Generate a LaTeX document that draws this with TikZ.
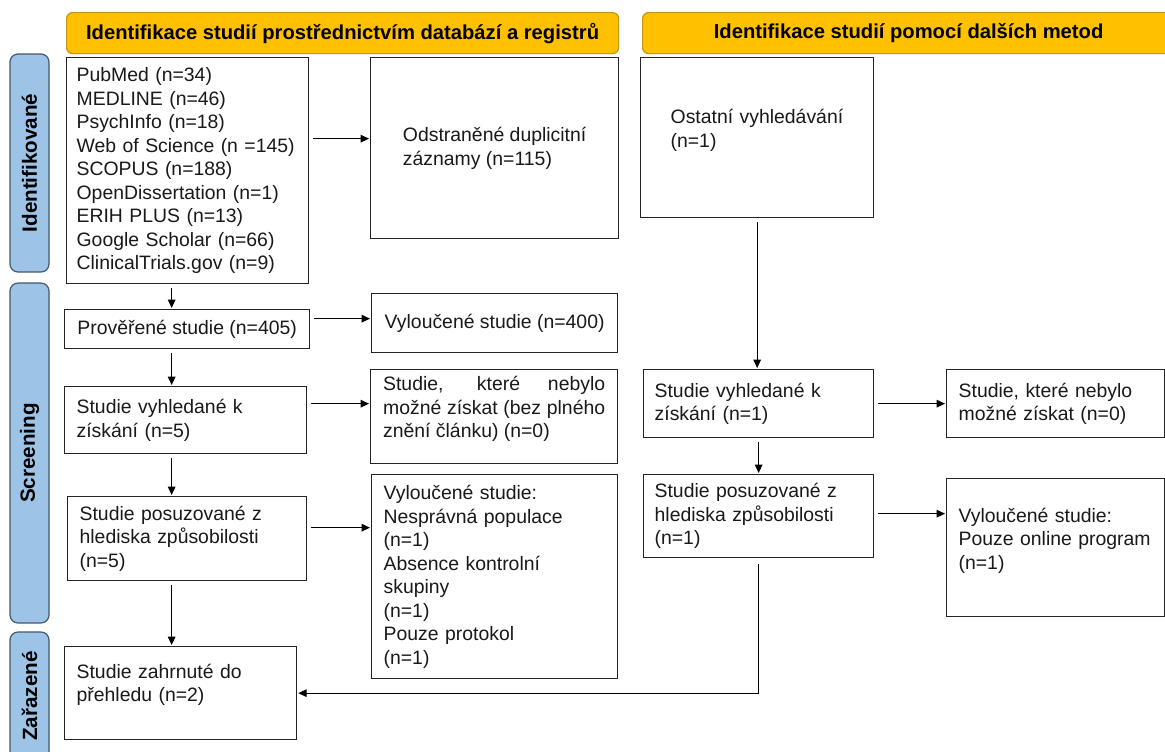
\documentclass[tikz,border=0pt]{standalone}
\usepackage{fontspec}
\setmainfont{Liberation Sans}
\usepackage{tikz}
\usetikzlibrary{positioning,arrows.meta}
\definecolor{hdryellow}{RGB}{255,192,0}
\definecolor{hdrborder}{RGB}{196,150,20}
\definecolor{sideblue}{RGB}{157,195,230}
\definecolor{sideborder}{RGB}{70,88,108}
\definecolor{boxline}{RGB}{35,35,35}

\begin{document}
\begin{tikzpicture}[
    x=0.5pt, y=-0.5pt,
    font=\fontsize{9.7}{11.75}\selectfont,
    box/.style={
      draw=boxline, line width=0.65pt, fill=white, anchor=north west,
      inner ysep=2pt, text=black!90
    },
    lbox/.style={box, align=left, inner xsep=6pt},
    hdr/.style={
      draw=hdrborder, fill=hdryellow, rounded corners=3pt, anchor=north west,
      line width=0.6pt, minimum height=20.5pt, text=black,
      font=\fontsize{10.1}{12}\selectfont\bfseries
    },
    side/.style={
      draw=sideborder, fill=sideblue, rounded corners=4pt, rotate=90,
      line width=0.6pt, minimum height=19.5pt, text=black,
      font=\fontsize{10.3}{12}\selectfont\bfseries
    },
    arr/.style={-{Triangle[length=4.2pt,width=3.8pt]}, line width=0.5pt,
      shorten <=2pt, shorten >=0.5pt},
  ]
    \path[use as bounding box] (0,0) rectangle (1165,751);

    %── Headers ─────────────────────────────────────────────────────────
    \node[hdr, minimum width=276pt] (hdb)  at (66,12)  {Identifikace studií prostřednictvím databází a registrů};
    \node[hdr, minimum width=266pt] (hoth) at (642,12) {Identifikace studií pomocí dalších metod};

    %── Phase labels on the left ────────────────────────────────────────
    \node[side, minimum width=109pt] (sid)  at (29.5,163) {Identifikované};
    \node[side, minimum width=170pt] (sscr) at (29.5,453) {Screening};
    \node[side, minimum width=64pt]  (sinc) at (29.5,696) {Zařazené};

    %── Databases and registers ─────────────────────────────────────────
    \node[lbox, inner xsep=5pt, minimum width=121pt, minimum height=113pt, text width=111pt] (db) at (66,57)
      {PubMed (n=34)\\MEDLINE (n=46)\\PsychInfo (n=18)\\Web of Science (n =145)\\SCOPUS (n=188)\\OpenDissertation (n=1)\\ERIH PLUS (n=13)\\Google Scholar (n=66)\\ClinicalTrials.gov (n=9)};
    \node[box, align=left, minimum width=124pt, minimum height=90.5pt] (dup) at (370,57)
      {Odstraněné duplicitní\\záznamy (n=115)};

    \node[box, align=left, minimum width=122.5pt, minimum height=19.5pt] (scr) at (64,309)
      {Prověřené studie (n=405)};
    \node[box, align=center, minimum width=123pt, minimum height=29.5pt] (exc) at (371,293)
      {Vyloučené studie (n=400)};

    \node[lbox, minimum width=121pt, minimum height=33.5pt, text width=109pt] (rtr) at (64,386)
      {Studie vyhledané k\\získání (n=5)};
    \node[box, align=justify, inner xsep=6.25pt, minimum width=123.5pt, minimum height=47pt, text width=111pt, text depth=33pt] (nrt) at (370,369)
      {Studie, které nebylo\linebreak možné získat (bez plného\linebreak znění článku) (n=0)};

    \node[lbox, minimum width=119.5pt, minimum height=42pt, text width=107.5pt] (elg) at (67,496)
      {Studie posuzované z\\hlediska způsobilosti\\(n=5)};
    \node[lbox, minimum width=123pt, minimum height=102pt, text width=111pt] (exe) at (371,474)
      {Vyloučené studie:\\Nesprávná populace\\(n=1)\\Absence kontrolní\\skupiny\\(n=1)\\Pouze protokol\\(n=1)};

    \node[lbox, minimum width=116pt, minimum height=46.5pt, text width=104pt, text depth=22.3pt] (inc) at (64,646)
      {Studie zahrnuté do\\přehledu (n=2)};

    %── Other methods ───────────────────────────────────────────────────
    \node[lbox, inner xsep=15pt, minimum width=116.5pt, minimum height=80pt, text width=86.5pt, text depth=21.3pt] (oth) at (640,57)
      {Ostatní vyhledávání\\(n=1)};
    \node[lbox, inner xsep=5.5pt, minimum width=115pt, minimum height=34pt, text width=104pt] (ortr) at (643,369)
      {Studie vyhledané k\\získání (n=1)};
    \node[lbox, minimum width=109pt, minimum height=34pt, text width=97pt] (onrt) at (946,369)
      {Studie, které nebylo\\možné získat (n=0)};
    \node[lbox, inner xsep=5.5pt, minimum width=115pt, minimum height=41.5pt, text width=104pt] (oelg) at (643,474)
      {Studie posuzované z\\hlediska způsobilosti\\(n=1)};
    \node[lbox, minimum width=109pt, minimum height=69pt, text width=97pt, text depth=32.5pt] (oexe) at (946,478)
      {Vyloučené studie:\\Pouze online program\\(n=1)};

    %── Arrows, left flow ───────────────────────────────────────────────
    \draw[arr] ([yshift=16pt]db.east)     -- ([yshift=4.75pt]dup.west);
    \draw[arr] ([xshift=-8pt]db.south)    -- ([xshift=-7.75pt]scr.north);
    \draw[arr] ([yshift=5.25pt]scr.east)  -- ([yshift=2.25pt]exc.west);
    \draw[arr] ([xshift=-7.75pt]scr.south) -- ([xshift=-7pt]rtr.north);
    \draw[arr] ([yshift=8.25pt]rtr.east)  -- ([yshift=6.5pt]nrt.west);
    \draw[arr] ([xshift=-7pt]rtr.south)   -- ([xshift=-7.75pt]elg.north);
    \draw[arr] ([yshift=5.5pt]elg.east)   -- ([yshift=24.5pt]exe.west);
    \draw[arr] ([xshift=-7.75pt]elg.south) -- ([xshift=-4.5pt]inc.north);

    %── Arrows, right flow ──────────────────────────────────────────────
    \draw[arr] (oth.south) -- (oth.south |- ortr.north);
    \draw[arr] (ortr.east) -- (onrt.west);
    \draw[arr] (ortr.south) -- (oelg.north);
    \draw[arr] ([yshift=1.25pt]oelg.east) -- ([yshift=17pt]oexe.west);
    \draw[arr, shorten <=3pt] (oelg.south) -- (oelg.south |- inc.east) -- (inc.east);

  \end{tikzpicture}
\end{document}
